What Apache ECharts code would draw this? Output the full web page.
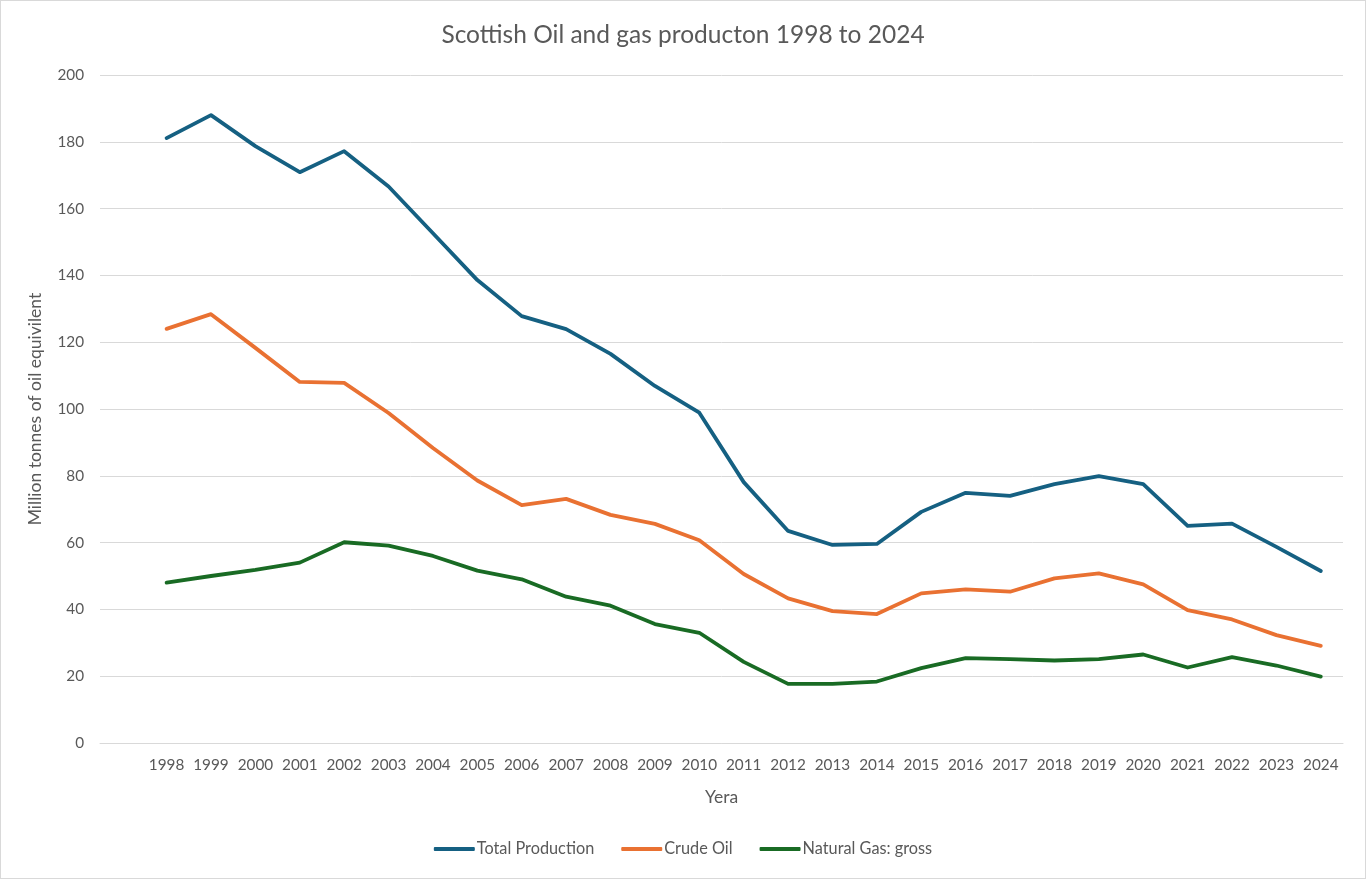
<!DOCTYPE html>
<html>
<head>
<meta charset="utf-8">
<script src="https://cdn.jsdelivr.net/npm/echarts@6/dist/echarts.min.js"></script>
<style>
  html, body { margin: 0; padding: 0; background: #fff; }
  #container { width: 1364px; height: 877px; border: 1px solid #d9d9d9; }
</style>
</head>
<body>
<div id="container"></div>
<script>
// first category is left blank, like the source sheet
var years = ['', '1998', '1999', '2000', '2001', '2002', '2003', '2004', '2005', '2006', '2007',
    '2008', '2009', '2010', '2011', '2012', '2013', '2014', '2015', '2016', '2017',
    '2018', '2019', '2020', '2021', '2022', '2023', '2024'];
var totalProduction = [null, 181.1, 188.0, 178.7, 170.9, 177.2, 166.6, 152.6, 138.6, 127.8, 123.9,
    116.5, 106.9, 98.9, 78.1, 63.5, 59.3, 59.6, 69.2, 74.9, 74.0,
    77.5, 79.9, 77.5, 65.0, 65.7, 58.7, 51.5];
var crudeOil = [null, 124.0, 128.4, 118.3, 108.1, 107.8, 98.8, 88.3, 78.6, 71.2, 73.1,
    68.3, 65.6, 60.7, 50.6, 43.3, 39.5, 38.6, 44.8, 46.0, 45.3,
    49.3, 50.8, 47.5, 39.8, 37.0, 32.3, 29.1];
var naturalGas = [null, 48.0, 50.0, 51.8, 54.0, 60.1, 59.1, 56.0, 51.6, 49.0, 43.8,
    41.1, 35.6, 33.0, 24.3, 17.7, 17.7, 18.4, 22.4, 25.4, 25.1,
    24.7, 25.1, 26.5, 22.6, 25.7, 23.2, 19.9];
var yTicks = { min: 0, max: 200, step: 20 };

var txt = '#595959';
var fontFam = 'Lato, "Open Sans", sans-serif';

var dom = document.getElementById("container");
var myChart = echarts.init(dom);
var option = {
    animation: false,
    textStyle: { fontFamily: fontFam },
    title: {
        text: 'Scottish Oil and gas producton 1998 to 2024',
        left: 'center',
        top: 17,
        textStyle: { color: txt, fontSize: 24.5, fontWeight: 'normal', fontFamily: fontFam }
    },
    grid: { left: 99, right: 22, top: 74, bottom: 135 },
    xAxis: {
        type: 'category',
        data: years,
        boundaryGap: true,
        name: 'Yera',
        nameLocation: 'middle',
        nameGap: 45,
        nameTextStyle: { color: txt, fontSize: 17.5 },
        axisLine: { lineStyle: { color: '#d9d9d9', width: 1 } },
        axisTick: { show: false },
        axisLabel: { color: txt, fontSize: 15.3, margin: 15, interval: 0 }
    },
    yAxis: {
        type: 'value',
        min: yTicks.min,
        max: yTicks.max,
        interval: yTicks.step,
        name: 'Million tonnes of oil equivilent',
        nameLocation: 'middle',
        nameGap: 56,
        nameTextStyle: { color: txt, fontSize: 17.5 },
        axisLine: { show: false },
        axisTick: { show: false },
        axisLabel: { color: txt, fontSize: 15.3, margin: 16 },
        splitLine: { lineStyle: { color: '#d9d9d9', width: 1 } }
    },
    legend: {
        bottom: 16,
        left: 'center',
        itemWidth: 41,
        itemHeight: 4,
        itemGap: 27,
        icon: 'roundRect',
        textStyle: { color: txt, fontSize: 16.3, padding: [0, 0, 0, -3] },
        data: ['Total Production', 'Crude Oil', 'Natural Gas: gross']
    },
    series: [{
        name: 'Total Production',
        type: 'line',
        data: totalProduction,
        symbol: 'none',
        color: '#156082',
        lineStyle: { width: 3.8, cap: 'round', join: 'round' }
    }, {
        name: 'Crude Oil',
        type: 'line',
        data: crudeOil,
        symbol: 'none',
        color: '#E97132',
        lineStyle: { width: 3.8, cap: 'round', join: 'round' }
    }, {
        name: 'Natural Gas: gross',
        type: 'line',
        data: naturalGas,
        symbol: 'none',
        color: '#196B24',
        lineStyle: { width: 3.8, cap: 'round', join: 'round' }
    }]
};
myChart.setOption(option, true);
</script>
</body>
</html>
